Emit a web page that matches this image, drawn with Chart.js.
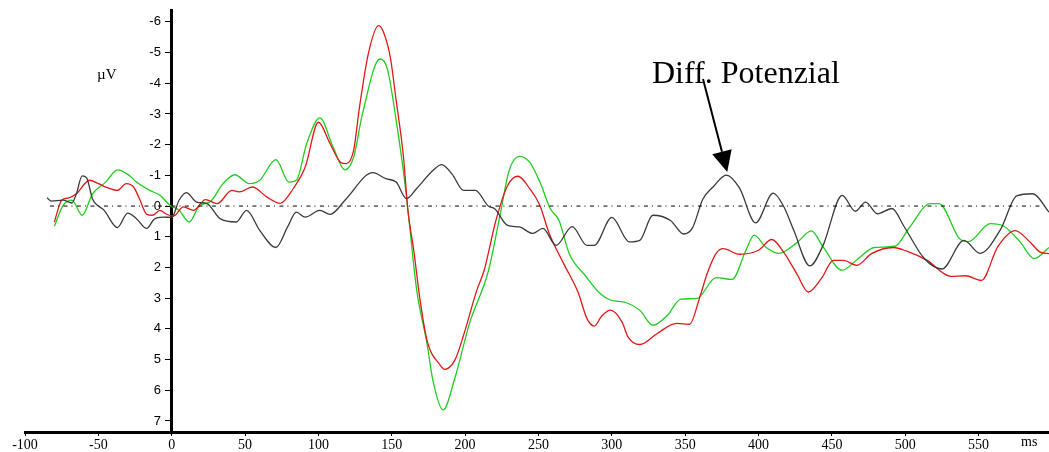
<!DOCTYPE html>
<html>
<head>
<meta charset="utf-8">
<script src="https://cdn.jsdelivr.net/npm/chart.js@4/dist/chart.umd.min.js"></script>
<style>
  html, body { margin: 0; padding: 0; background: #fff; }
  #wrap { width: 1049px; height: 452px; }
</style>
</head>
<body>
<div id="wrap"><canvas id="erpChart"></canvas></div>
<script>
// Difference wave (black)
const diffMs = [-85,-82,-74,-68,-65,-61,-58,-54,-46,-37,-30,-24,-17,-12,-6,0,5,10,17,24,33,44,51,60,71,79,85,91,101,108,119,137,146,153,160,167,178,184,191,199,207,216,220,229,237,246,253,262,273,283,288,300,312,319,328,340,349,355,362,369,378,387,398,410,417,424,435,444,457,466,473,481,491,499,513,525,540,551,565,576,587,598];
const diffUv = [-0.27,-0.16,-0.19,-0.10,-0.40,-0.98,-0.92,-0.24,0.14,0.70,0.23,0.41,0.73,0.43,0.36,0.37,-0.19,-0.44,-0.13,-0.08,0.41,0.52,0.14,0.79,1.35,0.68,0.20,0.36,0.14,0.27,-0.24,-1.09,-0.89,-0.78,-0.24,-0.57,-1.16,-1.35,-1.05,-0.51,-0.51,0.01,0.08,0.63,0.68,0.89,0.73,1.28,0.67,1.28,1.28,0.37,1.17,1.12,0.30,0.47,0.91,0.71,-0.22,-0.62,-1.01,-0.59,0.55,-0.42,0.00,0.79,1.95,1.28,-0.35,0.17,-0.13,0.25,0.08,0.65,1.71,2.05,1.12,1.54,0.76,-0.33,-0.40,0.20];

// Red condition
const redMs = [-80,-75,-70,-65,-56,-50,-45,-37,-31,-26,-22,-17,-13,-8,-4,1,8,15,23,31,41,46,55,65,74,83,91,100,108,115,119,124,128,134,141,144,149,153,158,161,165,169,174,183,186,193,199,208,213,221,229,236,244,251,257,267,277,283,288,293,299,307,311,319,331,344,353,360,365,371,376,387,400,409,417,426,434,443,451,458,467,477,492,501,515,531,541,552,563,575,585,592,598];
const redUv = [0.52,-0.19,-0.27,-0.40,-0.84,-0.73,-0.62,-0.51,-0.73,-0.62,-0.24,0.27,0.30,0.14,0.25,0.33,0.03,0.14,-0.21,-0.08,-0.51,-0.46,-0.62,-0.29,-0.09,-0.58,-1.27,-2.73,-2.03,-1.43,-1.38,-1.81,-3.22,-4.96,-5.88,-5.71,-4.85,-3.44,-1.59,0.14,1.44,2.96,4.37,5.18,5.32,5.02,4.20,2.74,2.09,0.47,-0.67,-0.97,-0.57,-0.02,0.85,1.86,2.81,3.66,3.91,3.59,3.39,3.78,4.26,4.51,4.15,3.82,3.85,2.96,2.20,1.55,1.39,1.57,1.44,1.09,1.49,2.20,2.80,2.35,1.77,1.77,1.93,1.55,1.35,1.47,1.77,2.29,2.27,2.42,1.33,0.80,1.17,1.50,1.55];

// Green condition
const greenMs = [-80,-74,-68,-61,-54,-45,-37,-29,-24,-15,-8,-1,5,12,19,26,35,43,53,60,71,80,85,92,101,110,118,124,130,142,147,153,159,162,167,174,178,185,193,203,216,224,230,237,244,251,258,264,271,282,292,299,310,319,328,338,347,358,371,382,391,397,405,414,426,436,444,457,468,479,493,503,517,523,537,543,558,567,578,588,598];
const greenUv = [0.66,-0.02,-0.19,0.30,-0.40,-0.78,-1.18,-1.00,-0.78,-0.51,-0.35,-0.02,0.14,0.52,-0.02,-0.13,-0.73,-1.02,-0.73,-0.84,-1.51,-0.78,-0.84,-2.03,-2.87,-1.92,-1.18,-1.59,-3.00,-4.79,-4.47,-2.79,-0.73,0.57,2.74,4.47,5.67,6.64,5.61,3.82,2.09,0.25,-1.16,-1.62,-1.43,-0.78,0.08,0.47,1.55,2.27,2.85,3.06,3.15,3.39,3.88,3.55,3.03,3.01,2.33,2.39,1.49,0.95,1.34,1.54,1.20,0.81,1.33,2.09,1.71,1.35,1.31,0.69,-0.08,-0.08,1.06,1.16,0.57,0.65,1.15,1.71,1.35];

// zero reference line
const baseMs = [-83, 593];
const baseUv = [0, 0];

const xTicks = [-100,-50,0,50,100,150,200,250,300,350,400,450,500,550];
const yTicks = [-6,-5,-4,-3,-2,-1,0,1,2,3,4,5,6,7];

const peakMs = 378;   // arrow target on the difference wave
const peakUv = -1.01;

function pts(xs, ys) {
    return xs.map((x, i) => ({ x: x, y: ys[i] }));
}

function wave(data, color) {
    return {
        data: data,
        borderColor: color,
        borderWidth: 1.3,
        pointRadius: 0,
        fill: false,
        tension: 0.4,
        cubicInterpolationMode: 'monotone'
    };
}

// labels, unit text and the arrow
const annotations = {
    id: 'annotations',
    afterDraw(chart) {
        const ctx = chart.ctx;
        const xs = chart.scales.x, ys = chart.scales.y;
        ctx.save();
        ctx.fillStyle = '#000';
        ctx.textBaseline = 'alphabetic';
        ctx.textAlign = 'left';
        ctx.font = '15px "Liberation Serif"';
        ctx.fillText('\u00b5V', 97, 79);
        ctx.font = '14px "Liberation Serif"';
        ctx.fillText('ms', 1021, 446);
        ctx.font = '32px "Liberation Serif"';
        ctx.fillText('Diff. Potenzial', 652, 83);

        const tx = xs.getPixelForValue(peakMs) + 1;
        const ty = ys.getPixelForValue(peakUv) - 3;
        const sx = 703, sy = 79;
        const ang = Math.atan2(ty - sy, tx - sx);
        const headLen = 21, headW = 10;
        const bx = tx - headLen * Math.cos(ang), by = ty - headLen * Math.sin(ang);
        ctx.strokeStyle = '#000';
        ctx.lineWidth = 2;
        ctx.beginPath();
        ctx.moveTo(sx, sy);
        ctx.lineTo(bx, by);
        ctx.stroke();
        ctx.beginPath();
        ctx.moveTo(tx, ty);
        ctx.lineTo(bx + headW * Math.sin(ang), by - headW * Math.cos(ang));
        ctx.lineTo(bx - headW * Math.sin(ang), by + headW * Math.cos(ang));
        ctx.closePath();
        ctx.fill();
        ctx.restore();
    }
};

const ctx = document.getElementById('erpChart').getContext('2d');
new Chart(ctx, {
    type: 'line',
    data: {
        datasets: [
            Object.assign(wave(pts(baseMs, baseUv), '#000'), { borderWidth: 1, borderDash: [4, 4, 1, 4.5], tension: 0 }),
            wave(pts(diffMs, diffUv), '#3a3a3a'),
            wave(pts(redMs, redUv), '#e01818'),
            wave(pts(greenMs, greenUv), '#1fcc1f')
        ]
    },
    options: {
        responsive: true,
        maintainAspectRatio: false,
        animation: false,
        layout: { padding: { top: 10, left: 25, right: 0, bottom: 0 } },
        plugins: { legend: { display: false }, tooltip: { enabled: false } },
        scales: {
            x: {
                type: 'linear',
                min: -100,
                max: 598,
                position: 'bottom',
                afterBuildTicks: (s) => { s.ticks = xTicks.map(v => ({ value: v })); },
                afterFit: (s) => { s.height = 20; },
                grid: { drawOnChartArea: false, tickLength: 4, color: '#000', lineWidth: 1 },
                border: { color: '#000', width: 3 },
                ticks: {
                    color: '#000',
                    padding: 1,
                    maxRotation: 0,
                    autoSkip: false,
                    font: { family: '"Liberation Serif"', size: 14 }
                }
            },
            y: {
                type: 'linear',
                min: -6.36,
                max: 7.36,
                reverse: true,
                position: { x: 0 },
                afterBuildTicks: (s) => { s.ticks = yTicks.map(v => ({ value: v })); },
                grid: { drawOnChartArea: false, tickLength: 5, color: '#000', lineWidth: 1 },
                border: { color: '#000', width: 3 },
                ticks: {
                    color: '#000',
                    autoSkip: false,
                    // axis sits inside the plot, so keep the labels clear of the tick marks
                    callback: (v) => v + '   ',
                    font: { family: '"Liberation Sans"', size: 13 }
                }
            }
        }
    },
    plugins: [annotations]
});
</script>
</body>
</html>
